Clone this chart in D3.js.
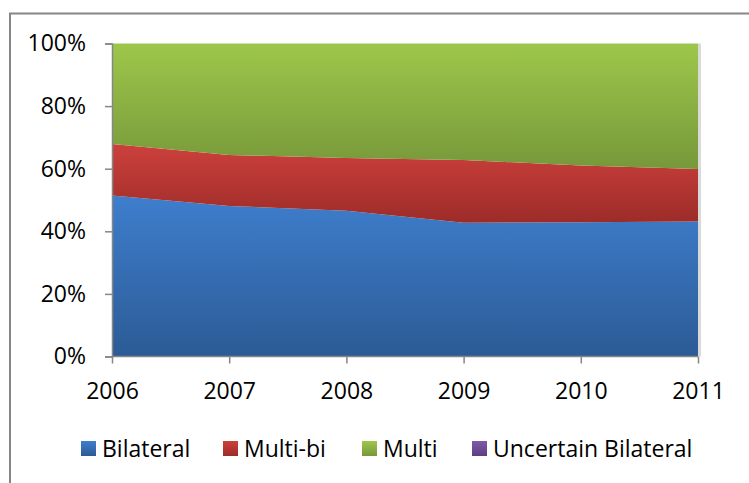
<!DOCTYPE html>
<html>
<head>
<meta charset="utf-8">
<script src="https://cdn.jsdelivr.net/npm/d3@7"></script>
<style>
  body { margin: 0; background: #fff; }
  text { font-family: "Open Sans", sans-serif; fill: #000; }
</style>
</head>
<body>
<svg width="749" height="483"></svg>
<script>
// chart values (shares of total)
var years = [2006, 2007, 2008, 2009, 2010, 2011];
var bilateral = [0.514, 0.481, 0.466, 0.427, 0.429, 0.431];
var multiBi = [0.165, 0.163, 0.168, 0.201, 0.181, 0.168];
var multi = [0.321, 0.356, 0.366, 0.372, 0.390, 0.401];
var uncertain = [0, 0, 0, 0, 0, 0];
var seriesNames = ["Bilateral", "Multi-bi", "Multi", "Uncertain Bilateral"];
var yTicks = [0, 0.2, 0.4, 0.6, 0.8, 1];

var colors = {
  "Bilateral": ["#3e7ecd", "#2c5b95"],
  "Multi-bi": ["#cd403c", "#9c2c29"],
  "Multi": ["#9dc74b", "#77983a"],
  "Uncertain Bilateral": ["#7e5aa8", "#5c3f80"]
};

var svg = d3.select("svg");

// outer chart border (runs off the bottom edge)
svg.append("rect")
    .attr("x", 10).attr("y", 13.5)
    .attr("width", 760).attr("height", 500)
    .attr("fill", "#fff")
    .attr("stroke", "#868686")
    .attr("stroke-width", 2);

var margin = {top: 43.5, left: 112, right: 51, bottom: 126.5},
    width = 749 - margin.left - margin.right,
    height = 483 - margin.top - margin.bottom;

var defs = svg.append("defs");
seriesNames.forEach(function(name, i) {
  var gr = defs.append("linearGradient")
      .attr("id", "grad" + i)
      .attr("x1", 0).attr("y1", 0).attr("x2", 0).attr("y2", 1);
  gr.append("stop").attr("offset", "0%").attr("stop-color", colors[name][0]);
  gr.append("stop").attr("offset", "100%").attr("stop-color", colors[name][1]);
});

var g = svg.append("g").attr("transform", "translate(" + margin.left + "," + margin.top + ")");

var x = d3.scalePoint().domain(years).range([0, width]);
var y = d3.scaleLinear().domain([0, 1]).range([height, 0]);

var table = years.map(function(yr, i) {
  return {year: yr, "Bilateral": bilateral[i], "Multi-bi": multiBi[i], "Multi": multi[i], "Uncertain Bilateral": uncertain[i]};
});

var stack = d3.stack().keys(seriesNames).offset(d3.stackOffsetExpand);
var layers = stack(table);

var area = d3.area()
    .x(function(d) { return x(d.data.year); })
    .y0(function(d) { return y(d[0]); })
    .y1(function(d) { return y(d[1]); });

// faint shadow on the right side of the plot
g.append("rect")
    .attr("x", width).attr("y", 0)
    .attr("width", 3).attr("height", height)
    .attr("fill", "#d9d9d9");

g.selectAll(".layer")
  .data(layers.filter(function(l) { return d3.max(l, function(d) { return d[1] - d[0]; }) > 0; }))
  .enter().append("path")
    .attr("class", "layer")
    .attr("fill", function(d) { return "url(#grad" + seriesNames.indexOf(d.key) + ")"; })
    .attr("d", area);

// y axis
var yAxis = g.append("g")
    .call(d3.axisLeft(y).tickValues(yTicks).tickFormat(d3.format(".0%")).tickSize(7).tickPadding(19));
yAxis.selectAll("line, path").attr("stroke", "#868686").attr("stroke-width", 1.5);
yAxis.selectAll("text").style("font-size", "23px").style("font-family", "'Open Sans', sans-serif");

// x axis
var xAxis = g.append("g")
    .attr("transform", "translate(0," + height + ")")
    .call(d3.axisBottom(x).tickSizeOuter(0).tickSize(7).tickPadding(19));
xAxis.selectAll("line, path").attr("stroke", "#868686").attr("stroke-width", 1.5);
xAxis.select("path").attr("d", "M0,0H" + width);
xAxis.selectAll("text").style("font-size", "23px").style("font-family", "'Open Sans', sans-serif");

// legend
var legendX = [81, 223, 362, 472];
var legend = svg.append("g").attr("transform", "translate(0,448.5)");
seriesNames.forEach(function(name, i) {
  var item = legend.append("g").attr("transform", "translate(" + legendX[i] + ",0)");
  item.append("rect")
      .attr("x", 0).attr("y", -7.5)
      .attr("width", 15).attr("height", 15)
      .attr("fill", "url(#grad" + i + ")");
  item.append("text")
      .attr("x", 21).attr("y", 0)
      .attr("dy", "0.35em")
      .style("font-size", "23px")
      .text(name);
});
</script>
</body>
</html>
